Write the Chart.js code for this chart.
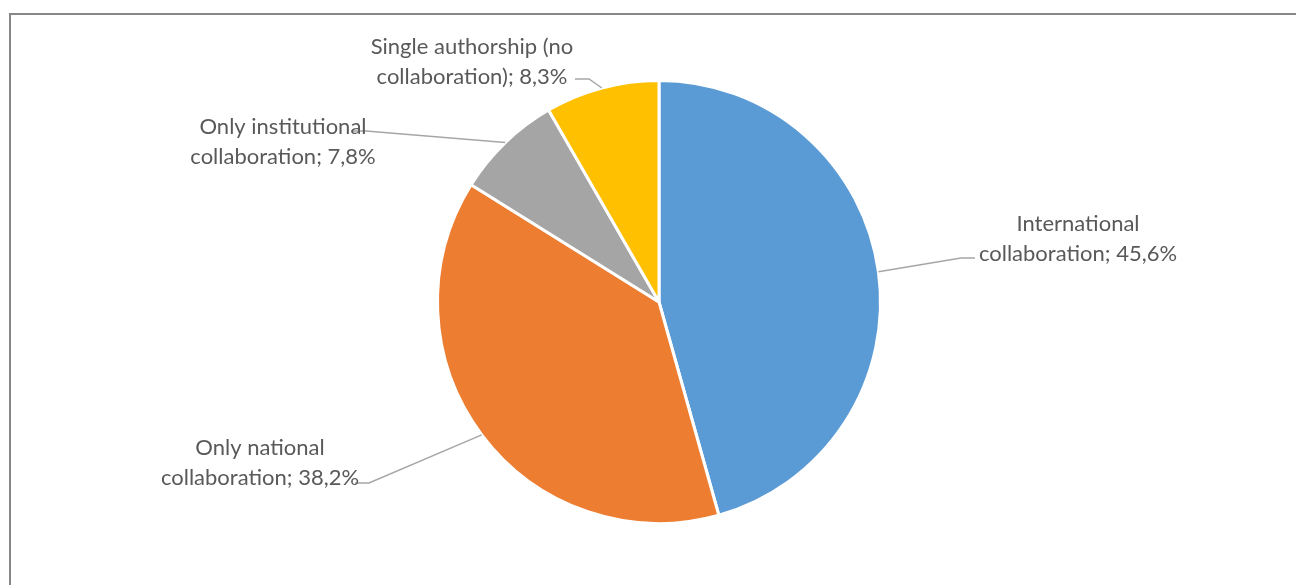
<!DOCTYPE html>
<html>
<head>
<meta charset="utf-8">
<script src="https://cdn.jsdelivr.net/npm/chart.js@4/dist/chart.umd.min.js"></script>
<style>
  html, body { margin: 0; padding: 0; background: #fff; }
  #wrap { position: relative; width: 1296px; height: 585px; overflow: hidden; }
  #frame { position: absolute; left: 9px; top: 13px; width: 1300px; height: 600px; border: 2px solid #878787; box-sizing: border-box; }
  canvas { position: absolute; left: 0; top: 0; }
</style>
</head>
<body>
<div id="wrap">
  <div id="frame"></div>
  <canvas id="c" width="1296" height="585"></canvas>
</div>
<script>
const categories = ["International collaboration", "Only national collaboration", "Only institutional collaboration", "Single authorship (no collaboration)"];
const labelLines = [
  ["International", "collaboration; 45,6%"],
  ["Only national", "collaboration; 38,2%"],
  ["Only institutional", "collaboration; 7,8%"],
  ["Single authorship (no", "collaboration); 8,3%"]
];
const values = [45.6, 38.2, 7.8, 8.3];
const colors = ["#5B9BD5", "#ED7D31", "#A5A5A5", "#FFC000"];
// label block centres (px) and leader-line end side
const labelCenters = [[1078, 239], [260, 463], [283, 142], [472, 62]];
const leaderEnds = [[975, 258], [355, 483], [352, 131], [575, 79]];

const labelPlugin = {
  id: 'pieLabels',
  afterDatasetsDraw(chart) {
    const ctx = chart.ctx;
    const meta = chart.getDatasetMeta(0);
    ctx.save();
    meta.data.forEach((arc, i) => {
      const mid = (arc.startAngle + arc.endAngle) / 2;
      const sx = arc.x + Math.cos(mid) * arc.outerRadius;
      const sy = arc.y + Math.sin(mid) * arc.outerRadius;
      const [ex, ey] = leaderEnds[i];
      const elbowX = ex + (sx > ex ? 14 : -14);
      ctx.strokeStyle = '#A6A6A6';
      ctx.lineWidth = 1.5;
      ctx.beginPath();
      ctx.moveTo(sx, sy);
      ctx.lineTo(elbowX, ey);
      ctx.lineTo(ex, ey);
      ctx.stroke();
      const [cx, cy] = labelCenters[i];
      ctx.fillStyle = '#595959';
      ctx.font = '22px Lato';
      ctx.textAlign = 'center';
      ctx.textBaseline = 'middle';
      ctx.fillText(labelLines[i][0], cx, cy - 15);
      ctx.fillText(labelLines[i][1], cx, cy + 15);
    });
    ctx.restore();
  }
};

new Chart(document.getElementById('c'), {
  type: 'pie',
  data: {
    labels: categories,
    datasets: [{ data: values, backgroundColor: colors, borderColor: '#ffffff', borderWidth: 3 }]
  },
  options: {
    responsive: false,
    animation: false,
    layout: { padding: { top: 79, bottom: 60, left: 200, right: 178 } },
    plugins: { legend: { display: false }, tooltip: { enabled: false } }
  },
  plugins: [labelPlugin]
});
</script>
</body>
</html>
